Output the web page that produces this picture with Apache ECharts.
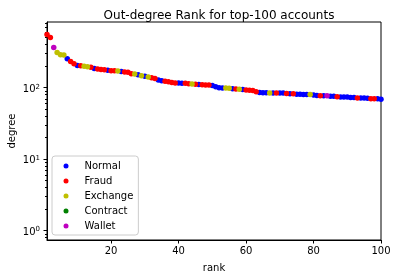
<!DOCTYPE html>
<html><head><meta charset="utf-8">
<script src="https://cdn.jsdelivr.net/npm/echarts@6/dist/echarts.min.js"></script>
<style>html,body{margin:0;padding:0;background:#fff}#c{width:398px;height:278px}</style>
</head><body><div id="c"></div>
<script>
// ---- data ----
const categories = ['Normal', 'Fraud', 'Exchange', 'Contract', 'Wallet'];
const categoryColors = ['#0000ff', '#ff0000', '#bfbf00', '#008000', '#bf00bf'];
const codeToCategory = { N: 'Normal', F: 'Fraud', E: 'Exchange', C: 'Contract', W: 'Wallet' };

const ranks = [];
for (let i = 1; i <= 100; i++) ranks.push(i);

const degrees = [
  555, 503, 365, 310, 290, 286, 255, 232, 217, 204,
  202, 200, 197, 193, 185, 182, 179, 178, 176, 173,
  172, 171, 168, 166, 165, 157, 156, 152, 147, 145,
  141, 138, 134, 128, 125, 123, 121, 118, 116, 116,
  115, 115, 114, 113, 112, 111, 110, 109, 109, 107,
  103, 100, 99, 99, 98, 97, 96, 95, 94, 93,
  92, 91, 88, 86, 85, 85, 84, 84, 84, 84,
  84, 83, 82, 82, 81, 81, 80, 80, 80, 79,
  78, 77, 77, 77, 76, 76, 75, 74, 74, 74,
  73, 73, 72, 72, 72, 71, 70, 70, 70, 69
];

const typeCodes = [
  'F','F','W','E','E','E','N','F','F','N',
  'F','E','E','F','N','F','F','F','N','F',
  'F','E','N','F','F','F','E','N','E','N',
  'E','F','F','N','N','F','F','F','F','N',
  'N','F','F','E','F','N','F','F','F','N',
  'N','N','N','E','E','N','F','E','N','F',
  'F','F','F','N','N','N','E','N','F','N',
  'N','F','N','F','N','N','N','N','E','N',
  'N','F','N','W','N','N','F','N','N','N',
  'N','N','F','N','N','N','F','F','N','N'
];

const xTicks = [20, 40, 60, 80, 100];
const yMajorTicks = [1, 10, 100];
const yMinorTicks = [0.8, 0.9, 2, 3, 4, 5, 6, 7, 8, 9, 20, 30, 40, 50, 60, 70, 80, 90, 200, 300, 400, 500, 600, 700, 800];

// ---- chart ----
const FONT = 'DejaVu Sans';
const series = categories.map((cat, ci) => ({
  name: cat,
  type: 'scatter',
  symbol: 'circle',
  symbolSize: 5.5,
  itemStyle: { color: categoryColors[ci], opacity: 1 },
  data: ranks.map((r, i) => codeToCategory[typeCodes[i]] === cat ? [r, degrees[i]] : null).filter(d => d),
  z: 2 + ci
}));

const chart = echarts.init(document.getElementById('c'), null, { renderer: 'canvas' });
chart.setOption({
  animation: false,
  backgroundColor: '#fff',
  textStyle: { fontFamily: FONT },
  title: {
    text: 'Out-degree Rank for top-100 accounts',
    left: 214, top: 5, textAlign: 'center',
    textStyle: { fontFamily: FONT, fontSize: 12, fontWeight: 'normal', color: '#000' }
  },
  grid: { show: true, left: 47, right: 17, top: 22, bottom: 38, containLabel: false, outerBoundsMode: 'none', borderColor: '#000', borderWidth: 1, backgroundColor: 'transparent' },
  legend: {
    orient: 'vertical', left: 52, top: 156,
    data: categories,
    icon: 'circle', itemWidth: 5, itemHeight: 5, itemGap: 3,
    padding: [4, 5, 3, 11.5],
    backgroundColor: 'rgba(255,255,255,0.8)', borderColor: '#cccccc', borderWidth: 1, borderRadius: 3,
    textStyle: { fontFamily: FONT, fontSize: 10, color: '#000', lineHeight: 12, padding: [0, 0, 0, 11] }
  },
  xAxis: {
    type: 'value', min: 1, max: 100,
    name: 'rank', nameLocation: 'middle', nameGap: 23, nameMoveOverlap: false,
    nameTextStyle: { fontFamily: FONT, fontSize: 10, color: '#000' },
    axisLine: { show: true, onZero: false, lineStyle: { color: '#000', width: 1 } },
    axisTick: { show: true, length: 3.5, lineStyle: { color: '#000' }, customValues: xTicks },
    axisLabel: { customValues: xTicks, margin: 6, fontFamily: FONT, fontSize: 10, color: '#000' },
    splitLine: { show: false }
  },
  yAxis: [{
    type: 'log', logBase: 10, min: 0.74, max: 830,
    name: 'degree', nameLocation: 'middle', nameGap: 30, nameMoveOverlap: false,
    nameTextStyle: { fontFamily: FONT, fontSize: 10, color: '#000' },
    axisLine: { show: true, lineStyle: { color: '#000', width: 1 } },
    axisTick: { show: true, length: 3.5, lineStyle: { color: '#000' }, customValues: yMajorTicks },
    axisLabel: {
      customValues: yMajorTicks, margin: 7, fontFamily: FONT, fontSize: 10, color: '#000',
      padding: [3, 0, 0, 0],
      formatter: v => '10{s|' + Math.round(Math.log10(v)) + '}',
      rich: { s: { fontFamily: FONT, fontSize: 7, color: '#000', verticalAlign: 'top', lineHeight: 12 } }
    },
    splitLine: { show: false }
  }, {
    type: 'log', logBase: 10, min: 0.74, max: 830, position: 'left',
    axisLine: { show: false },
    axisTick: { show: true, length: 2, lineStyle: { color: '#000' }, customValues: yMinorTicks },
    axisLabel: { show: false },
    splitLine: { show: false }
  }],
  series: series
});
</script>
</body></html>
